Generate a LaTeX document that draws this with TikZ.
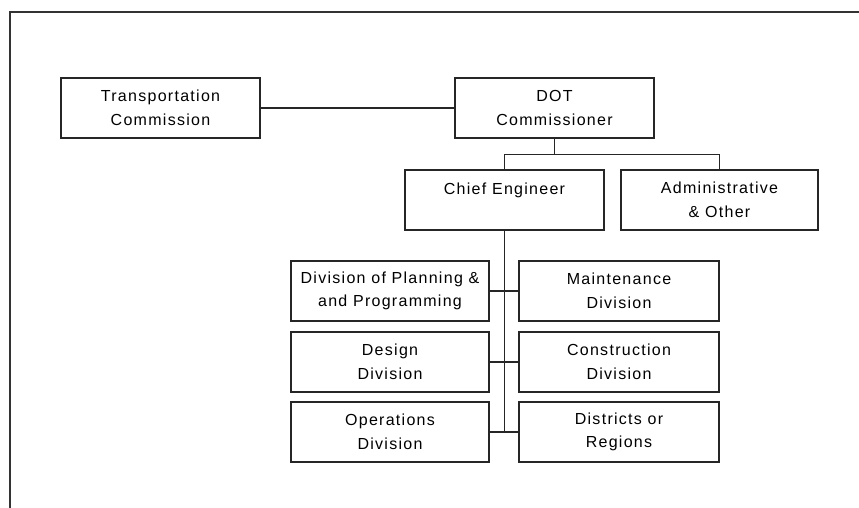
\documentclass[tikz,border=0pt]{standalone}
\usepackage{fontspec}
\setmainfont{Liberation Sans}[LetterSpace=8]
\begin{document}
\begin{tikzpicture}[x=1pt,y=-1pt,
  box/.style={draw=black!85,line width=1.5pt,rectangle,inner sep=0pt,
    minimum height=60pt,align=center,text=black,
    font=\fontsize{16}{23.5}\selectfont},
  wire/.style={draw=black!85,line width=1.4pt}]
\useasboundingbox (0,0) rectangle (859,508);
\draw[line width=1.2pt,black!80] (10,508) -- (10,12) -- (859,12);
\node[box,minimum width=199pt] (tc) at (160.5,108) {Transportation\\Commission};
\node[box,minimum width=199pt] (dot) at (554.5,108) {DOT\\Commissioner};
\node[box,minimum width=199pt] (ce) at (504.5,200) {Chief Engineer\\\mbox{}};
\node[box,minimum width=197pt] (ad) at (719.5,200) {Administrative\\\& Other};
\node[box,minimum width=198pt] (l1) at (390,291) {Division of Planning \&\\and Programming};
\node[box,minimum width=198pt] (l2) at (390,362) {Design\\Division};
\node[box,minimum width=198pt] (l3) at (390,432) {Operations\\Division};
\node[box,minimum width=200pt] (r1) at (619,291) {Maintenance\\Division};
\node[box,minimum width=200pt] (r2) at (619,362) {Construction\\Division};
\node[box,minimum width=200pt] (r3) at (619,432) {Districts or\\Regions};
\draw[wire] (tc.east) -- (dot.west);
\draw[wire] (dot.south) -- ++(0,16) coordinate (j1);
\draw[wire] (ce.north) |- (j1) -| (ad.north);
\draw[wire] (ce.south) -- (ce.south |- l3.east);
\draw[wire] (l1.east) -- (r1.west);
\draw[wire] (l2.east) -- (r2.west);
\draw[wire] (l3.east) -- (r3.west);
\end{tikzpicture}
\end{document}
